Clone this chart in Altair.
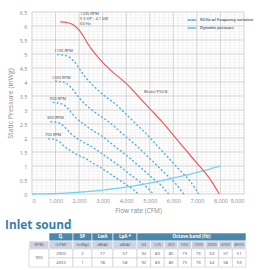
import altair as alt
import pandas as pd

# ---- fan curves (Flow rate CFM, static pressure inWg) ----
red_cfm = [1200, 1500, 1800, 2000, 2500, 3000, 3500, 4000, 4500, 5000, 5500, 6000, 6500, 7000, 7500, 7950]
red_inwg = [6.15, 6.12, 6.02, 5.85, 5.2, 4.7, 4.3, 3.95, 3.5, 3.05, 2.6, 2.1, 1.6, 1.1, 0.6, 0.0]

rpm1100_cfm = [1070, 1340, 1600, 1780, 2230, 2670, 3120, 3560, 4010, 4450, 4900, 5340, 5790, 6230, 6680, 7080]
rpm1100_inwg = [4.98, 4.96, 4.88, 4.74, 4.21, 3.81, 3.48, 3.20, 2.84, 2.47, 2.11, 1.70, 1.30, 0.89, 0.49, 0.0]

rpm1000_cfm = [970, 1215, 1460, 1620, 2025, 2430, 2835, 3240, 3645, 4050, 4455, 4860, 5265, 5670, 6075, 6440]
rpm1000_inwg = [4.03, 4.01, 3.95, 3.84, 3.41, 3.08, 2.82, 2.59, 2.30, 2.00, 1.71, 1.38, 1.05, 0.72, 0.39, 0.0]

rpm900_cfm = [875, 1095, 1310, 1460, 1820, 2185, 2550, 2915, 3280, 3645, 4010, 4375, 4740, 5100, 5470, 5795]
rpm900_inwg = [3.27, 3.25, 3.20, 3.11, 2.76, 2.50, 2.28, 2.10, 1.86, 1.62, 1.38, 1.12, 0.85, 0.58, 0.32, 0.0]

rpm800_cfm = [780, 970, 1165, 1295, 1620, 1945, 2270, 2590, 2915, 3240, 3565, 3890, 4210, 4535, 4860, 5150]
rpm800_inwg = [2.58, 2.57, 2.53, 2.46, 2.18, 1.97, 1.81, 1.66, 1.47, 1.28, 1.09, 0.88, 0.67, 0.46, 0.25, 0.0]

rpm700_cfm = [680, 850, 1020, 1135, 1420, 1700, 1985, 2270, 2550, 2835, 3120, 3400, 3685, 3970, 4250, 4510]
rpm700_inwg = [1.97, 1.96, 1.93, 1.88, 1.67, 1.51, 1.38, 1.27, 1.12, 0.98, 0.83, 0.67, 0.51, 0.35, 0.19, 0.0]

dyn_cfm = [0, 1000, 2000, 3000, 4000, 5000, 6000, 7000, 8000]
dyn_inwg = [0, 0.016, 0.063, 0.14, 0.25, 0.39, 0.57, 0.77, 1.0]

speed_labels = ["1100 RPM", "1000 RPM", "900 RPM", "800 RPM", "700 RPM"]
red_label = "1235 RPM\n5.5 HP - 4.1 kW\n60 Hz"
model_label = "Model P50 B"
series_var = "50 Hz w/ frequency variation"
series_dyn = "Dynamic pressure"

# ---- Inlet sound table ----
table_title = "Inlet sound"
head_top = ["Qᵥ", "SP", "LwA", "LpA *"]
head_band = "Octave band (Hz)"
head_units = ["RPM", "(CFM)", "(inWg)", "dB(A)", "dB(A)"]
band_hz = ["63", "125", "250", "500", "1000", "2000", "4000", "8000"]
rpm_value = "900"
row_a = [2900, 2, 77, 57, 92, 83, 80, 73, 73, 63, 57, 51]
row_b = [4355, 1, 78, 58, 92, 83, 80, 75, 73, 64, 58, 53]

# ---- styling ----
FONT = "Open Sans"
RED = "#ef5a5c"
BLUE = "#4aaee0"
CYAN = "#6fd4f2"
AXIS_GRAY = "#8a8a8a"
TEAL = "#4b87aa"
LAVENDER = "#cfd2df"

xs = alt.Scale(domain=[0, 9000], nice=False, zero=False)
ys = alt.Scale(domain=[0, 6.5], nice=False, zero=False)
x_axis = alt.Axis(values=list(range(0, 9001, 1000)), grid=False, ticks=False, domain=False,
                  labelFontSize=5.5, labelColor=AXIS_GRAY, labelPadding=4, labelFont=FONT,
                  title="Flow rate (CFM)", titleFontSize=6.5, titleColor=AXIS_GRAY,
                  titleFontWeight="normal", titleFont=FONT, titlePadding=4)
y_axis = alt.Axis(values=[i * 0.5 for i in range(14)], format="~g", grid=False, ticks=False,
                  domain=False, labelFontSize=5.5, labelColor=AXIS_GRAY, labelPadding=5,
                  labelFont=FONT, title="Static Pressure (inWg)", titleFontSize=7,
                  titleColor=AXIS_GRAY, titleFontWeight="normal", titleFont=FONT, titlePadding=6)


def X():
    return alt.X("cfm:Q", scale=xs, axis=x_axis)


def Y():
    return alt.Y("inwg:Q", scale=ys, axis=y_axis)


# grid lines
minor_x = pd.DataFrame({"cfm": [v for v in range(0, 9001, 200)]})
minor_y = pd.DataFrame({"inwg": [i / 10 for i in range(66)]})
major_x = pd.DataFrame({"cfm": list(range(0, 9001, 1000))})
major_y = pd.DataFrame({"inwg": [i * 0.5 for i in range(14)]})

grid = alt.layer(
    alt.Chart(minor_x).mark_rule(color="#ececec", strokeWidth=0.6).encode(x=X()),
    alt.Chart(minor_y).mark_rule(color="#ececec", strokeWidth=0.6).encode(y=Y()),
    alt.Chart(major_x).mark_rule(color="#cfcfcf", strokeWidth=0.8).encode(x=X()),
    alt.Chart(major_y).mark_rule(color="#cfcfcf", strokeWidth=0.8).encode(y=Y()),
)

# speed curves
speed_sets = [
    (speed_labels[0], rpm1100_cfm, rpm1100_inwg),
    (speed_labels[1], rpm1000_cfm, rpm1000_inwg),
    (speed_labels[2], rpm900_cfm, rpm900_inwg),
    (speed_labels[3], rpm800_cfm, rpm800_inwg),
    (speed_labels[4], rpm700_cfm, rpm700_inwg),
]
rows = []
for name, cs, ps in speed_sets:
    for i, (c, p) in enumerate(zip(cs, ps)):
        rows.append({"curve": name, "series": series_var, "cfm": c, "inwg": p, "order": i})
for i, (c, p) in enumerate(zip(dyn_cfm, dyn_inwg)):
    rows.append({"curve": series_dyn, "series": series_dyn, "cfm": c, "inwg": p, "order": i})
curves_df = pd.DataFrame(rows)

legend = alt.Legend(title=None, orient="none", legendX=155, legendY=3, labelFontSize=4,
                    labelColor="#666", labelFont=FONT, symbolType="stroke", symbolSize=70,
                    symbolStrokeWidth=1.2, rowPadding=0, labelOffset=3, padding=0)
curves = alt.Chart(curves_df).mark_line(strokeWidth=1.3, interpolate="monotone").encode(
    x=X(), y=Y(), detail="curve:N", order="order:Q",
    color=alt.Color("series:N", scale=alt.Scale(domain=[series_var, series_dyn], range=[BLUE, CYAN]),
                    legend=legend),
    strokeDash=alt.StrokeDash("series:N",
                              scale=alt.Scale(domain=[series_var, series_dyn], range=[[2, 2], [1, 0]]),
                              legend=legend),
)

red_df = pd.DataFrame({"cfm": red_cfm, "inwg": red_inwg})
red_line = alt.Chart(red_df).mark_line(color=RED, strokeWidth=1.2, interpolate="monotone").encode(
    x=X(), y=Y())

# labels at the top of each speed curve
lab_df = pd.DataFrame({"cfm": [s[1][0] for s in speed_sets], "inwg": [s[2][0] for s in speed_sets],
                       "label": speed_labels})
speed_text = alt.Chart(lab_df).mark_text(align="left", baseline="bottom", dx=-3, dy=-1.5,
                                         fontSize=4, color="#444", font=FONT).encode(
    x=X(), y=Y(), text="label:N")

red_anchor = pd.DataFrame({"cfm": [red_cfm[3]], "inwg": [red_inwg[3]], "label": [red_label]})
red_text = alt.Chart(red_anchor).mark_text(align="left", baseline="top", dx=1, dy=-18, fontSize=4,
                                           lineHeight=5, lineBreak="\n", color="#444",
                                           font=FONT).encode(x=X(), y=Y(), text="label:N")
model_anchor = pd.DataFrame({"cfm": [red_cfm[8]], "inwg": [red_inwg[8]], "label": [model_label]})
model_text = alt.Chart(model_anchor).mark_text(align="left", baseline="middle", dx=6, dy=-4,
                                               fontSize=4, color="#444", font=FONT).encode(
    x=X(), y=Y(), text="label:N")

main = alt.layer(grid, curves, red_line, speed_text, red_text, model_text)

# ---- table layout (page pixel units) ----
col_edges = [29, 49, 73, 92, 113, 137] + [137 + i * 109 / 8 for i in range(1, 9)]
row_edges = [233, 241, 249, 258, 267]

cells = []


def cell(c0, c1, r0, r1, text, fill, stroke, tcolor, weight):
    cells.append({"x0": col_edges[c0], "x1": col_edges[c1], "y0": row_edges[r0], "y1": row_edges[r1],
                  "xm": (col_edges[c0] + col_edges[c1]) / 2, "ym": (row_edges[r0] + row_edges[r1]) / 2,
                  "text": text, "fill": fill, "stroke": stroke, "tcolor": tcolor, "weight": weight})


for i, t in enumerate(head_top):
    cell(1 + i, 2 + i, 0, 1, t, TEAL, "#ffffff", "#ffffff", "bold")
cell(5, 13, 0, 1, head_band, TEAL, "#ffffff", "#ffffff", "bold")
for i, t in enumerate(head_units + band_hz):
    cell(i, i + 1, 1, 2, t, LAVENDER, "#ffffff", "#555555", "normal")
cell(0, 1, 2, 4, rpm_value, "#ffffff", "#c9c9c9", "#555555", "normal")
for r, vals in ((2, row_a), (3, row_b)):
    for i, v in enumerate(vals):
        cell(1 + i, 2 + i, r, r + 1, str(v), "#ffffff", "#c9c9c9", "#555555", "normal")
cells_df = pd.DataFrame(cells)

tx = alt.Scale(domain=[0, 270], range=[-32, 238], nice=False, zero=False)
ty = alt.Scale(domain=[0, 270], range=[-12, 258], nice=False, zero=False)

rects = alt.Chart(cells_df).mark_rect(strokeWidth=0.6).encode(
    x=alt.X("x0:Q", scale=tx, axis=None), x2="x1", y=alt.Y("y0:Q", scale=ty, axis=None), y2="y1",
    fill=alt.Fill("fill:N", scale=None), stroke=alt.Stroke("stroke:N", scale=None))
texts_bold = alt.Chart(cells_df[cells_df.weight == "bold"]).mark_text(
    fontSize=4.5, fontWeight="bold", font=FONT, baseline="middle").encode(
    x=alt.X("xm:Q", scale=tx, axis=None), y=alt.Y("ym:Q", scale=ty, axis=None), text="text:N",
    color=alt.Color("tcolor:N", scale=None))
texts_norm = alt.Chart(cells_df[cells_df.weight == "normal"]).mark_text(
    fontSize=4.2, font=FONT, baseline="middle").encode(
    x=alt.X("xm:Q", scale=tx, axis=None), y=alt.Y("ym:Q", scale=ty, axis=None), text="text:N",
    color=alt.Color("tcolor:N", scale=None))
title_df = pd.DataFrame({"x": [5], "y": [229], "t": [table_title]})
title_text = alt.Chart(title_df).mark_text(align="left", baseline="alphabetic", fontSize=11.8,
                                           fontWeight="bold", font=FONT, color="#3a80a6").encode(
    x=alt.X("x:Q", scale=tx, axis=None), y=alt.Y("y:Q", scale=ty, axis=None), text="t:N")

table = alt.layer(rects, texts_bold, texts_norm, title_text)

chart = alt.layer(main, table).resolve_scale(
    x="independent", y="independent", color="independent", stroke="independent", fill="independent"
).properties(
    width=212, height=182,
    autosize=alt.AutoSizeParams(type="none"),
    padding={"left": 32, "top": 12, "right": 26, "bottom": 76},
    background="white",
).configure_view(stroke=None)

chart.save("out.html", embed_options={"renderer": "svg", "actions": False})
